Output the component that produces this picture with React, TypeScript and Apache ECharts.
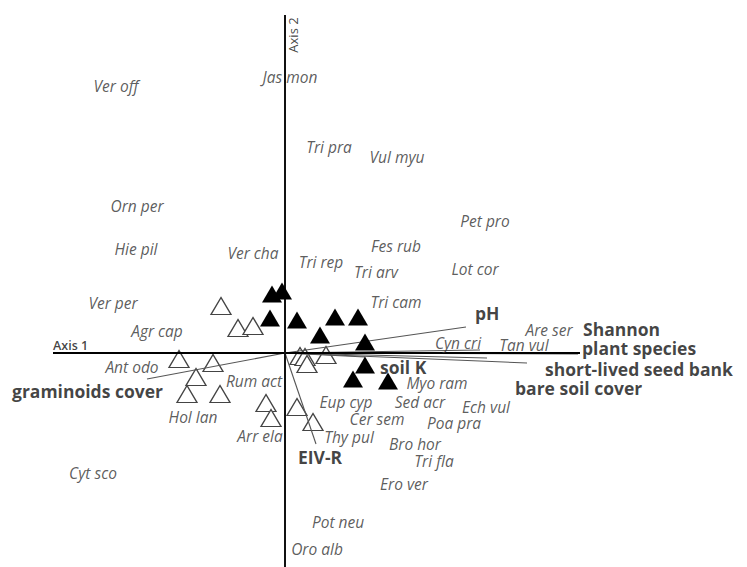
import React, { useEffect, useRef } from "react";
import * as echarts from "echarts";

// Species scores (axis 1, axis 2)
const speciesNames = [
  "Ver off", "Jas mon", "Tri pra", "Vul myu", "Orn per", "Pet pro", "Hie pil", "Fes rub",
  "Ver cha", "Tri rep", "Tri arv", "Lot cor", "Ver per", "Tri cam", "Agr cap", "Are ser",
  "Cyn cri", "Tan vul", "Ant odo", "Rum act", "Myo ram", "Eup cyp", "Sed acr", "Ech vul",
  "Hol lan", "Cer sem", "Poa pra", "Arr ela", "Thy pul", "Bro hor", "Tri fla", "Cyt sco",
  "Ero ver", "Pot neu", "Oro alb",
];
const speciesX = [
  -1.69, 0.05, 0.44, 1.12, -1.48, 2.0, -1.49, 1.11,
  -0.32, 0.36, 0.91, 1.9, -1.72, 1.11, -1.28, 2.64,
  1.73, 2.39, -1.53, -0.31, 1.52, 0.61, 1.35, 2.01,
  -0.92, 0.92, 1.69, -0.25, 0.64, 1.3, 1.49, -1.92,
  1.19, 0.53, 0.32,
];
const speciesY = [
  2.67, 2.76, 2.06, 1.96, 1.47, 1.32, 1.04, 1.07,
  1.0, 0.91, 0.81, 0.84, 0.5, 0.51, 0.22, 0.23,
  0.1, 0.08, -0.14, -0.28, -0.3, -0.49, -0.49, -0.54,
  -0.64, -0.66, -0.7, -0.83, -0.84, -0.91, -1.08, -1.2,
  -1.31, -1.69, -1.96,
];

// Site scores: filled triangles
const filledX = [-0.13, -0.03, -0.15, 0.12, 0.5, 0.73, 0.35, 0.8, 0.8, 0.68, 1.03];
const filledY = [0.59, 0.62, 0.35, 0.33, 0.36, 0.36, 0.18, 0.11, -0.12, -0.26, -0.28];

// Site scores: open triangles
const openX = [-0.64, -0.47, -0.32, -1.06, -0.72, -0.89, -0.98, -0.65, -0.19, -0.14, 0.12, 0.28, 0.15, 0.2, 0.22, 0.41];
const openY = [0.47, 0.25, 0.27, -0.06, -0.1, -0.24, -0.41, -0.41, -0.5, -0.65, -0.54, -0.69, -0.03, -0.04, -0.11, -0.02];

// Environmental vectors (arrow tips) and their label anchors
const vectorNames = ["pH", "Shannon", "plant species", "short-lived seed bank", "bare soil cover", "soil K", "graminoids cover", "EIV-R"];
const vectorX = [1.81, 1.95, 2.93, 2.42, 2.02, 0.8, -1.38, 0.31];
const vectorY = [0.26, 0.03, -0.01, -0.1, -0.05, -0.04, -0.26, -0.91];
const vectorLabelX = [1.9, 2.98, 2.97, 2.6, 2.3, 0.95, -2.73, 0.13];
const vectorLabelY = [0.4, 0.24, 0.05, -0.16, -0.35, -0.14, -0.38, -1.04];

// Axis extents
const axis1Range = [-2.32, 2.95];
const axis2Range = [-2.3, 3.38];

export default function App() {
  const ref = useRef<HTMLDivElement>(null);
  useEffect(() => {
    if (!ref.current) return;
    const chart = echarts.init(ref.current, null, { renderer: "svg" });

    const speciesData = speciesNames.map((n, i) => ({ name: n, value: [speciesX[i], speciesY[i]] }));
    const vectorLabelData = vectorNames.map((n, i) => ({ name: n, value: [vectorLabelX[i], vectorLabelY[i]] }));

    const series: any[] = [];
    series.push({
      type: "scatter",
      data: openX.map((x, i) => [x, openY[i]]),
      symbol: "triangle",
      symbolSize: [20, 17],
      itemStyle: { color: "#ffffff", borderColor: "#444", borderWidth: 1.3, opacity: 1 },
      z: 2,
      silent: true,
    });
    vectorNames.forEach((n, i) => {
      series.push({
        type: "line",
        data: [[0, 0], [vectorX[i], vectorY[i]]],
        symbol: "none",
        lineStyle: { color: "#555", width: 1.1 },
        z: 3,
        silent: true,
      });
    });
    series.push({
      type: "line",
      data: [[axis1Range[0], 0], [axis1Range[1], 0]],
      symbol: "none",
      lineStyle: { color: "#000", width: 2 },
      z: 4,
      silent: true,
    });
    series.push({
      type: "line",
      data: [[0, axis2Range[1]], [0, axis2Range[0]]],
      symbol: "none",
      lineStyle: { color: "#111", width: 2 },
      z: 4,
      silent: true,
    });
    series.push({
      type: "scatter",
      data: filledX.map((x, i) => [x, filledY[i]]),
      symbol: "triangle",
      symbolSize: [20, 17],
      itemStyle: { color: "#000", opacity: 1 },
      z: 5,
      silent: true,
    });
    series.push({
      type: "scatter",
      data: speciesData,
      symbolSize: 0,
      z: 6,
      silent: true,
      label: {
        show: true,
        position: [0, 0],
        align: "center",
        verticalAlign: "middle",
        formatter: (p: any) => p.name,
        fontFamily: "Open Sans",
        fontStyle: "italic",
        fontSize: 15.5,
        lineHeight: 14,
        color: "#333",
      },
    });
    series.push({
      type: "scatter",
      data: vectorLabelData,
      symbolSize: 0,
      z: 6,
      silent: true,
      label: {
        show: true,
        position: [0, 0],
        align: "left",
        verticalAlign: "middle",
        formatter: (p: any) => p.name,
        fontFamily: "Open Sans",
        fontWeight: "bold",
        fontSize: 17.5,
        lineHeight: 16,
        color: "#111",
      },
    });
    series.push({
      type: "scatter",
      data: [{ name: "Axis 1", value: [axis1Range[0], 0.08] }],
      symbolSize: 0,
      z: 6,
      silent: true,
      label: {
        show: true,
        position: [0, 0],
        align: "left",
        verticalAlign: "middle",
        formatter: (p: any) => p.name,
        fontFamily: "Open Sans",
        fontWeight: 600,
        fontSize: 12.5,
        color: "#111",
      },
    });
    series.push({
      type: "scatter",
      data: [{ name: "Axis 2", value: [0.08, 3.18] }],
      symbolSize: 0,
      z: 6,
      silent: true,
      label: {
        show: true,
        position: [0, 0],
        align: "center",
        verticalAlign: "middle",
        rotate: 90,
        formatter: (p: any) => p.name,
        fontFamily: "Open Sans",
        fontSize: 13,
        color: "#111",
      },
    });

    chart.setOption({
      animation: false,
      backgroundColor: "#ffffff",
      grid: { left: 0, right: 0, top: 0, bottom: 0 },
      xAxis: { type: "value", min: -2.85, max: 4.62, show: false },
      yAxis: { type: "value", min: -2.14, max: 3.53, show: false },
      series,
    });
    return () => chart.dispose();
  }, []);
  return (
    <div
      ref={ref}
      style={{ position: "fixed", left: 0, top: 0, width: 747, height: 567 }}
    />
  );
}
